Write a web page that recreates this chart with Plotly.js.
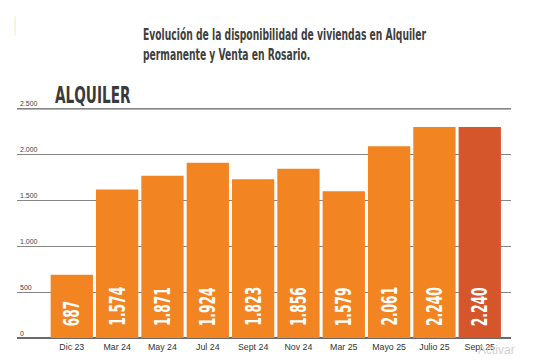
<!DOCTYPE html>
<html>
<head>
<meta charset="utf-8">
<script src="https://cdn.plot.ly/plotly-3.0.1.min.js"></script>
<style>
  html, body { margin: 0; padding: 0; background: #ffffff; }
  #chart { width: 549px; height: 361px; }
</style>
</head>
<body>
<div id="chart"></div>
<script>
// ---- Data ----
const categories = ["Dic 23", "Mar 24", "May 24", "Jul 24", "Sept 24", "Nov 24", "Mar 25", "Mayo 25", "Julio 25", "Sept 25"];
// bar heights as drawn in the reference
const barHeights = [690, 1620, 1770, 1910, 1730, 1845, 1600, 2090, 2300, 2300];
// values printed inside the bars
const barLabels = ["687", "1.574", "1.871", "1.924", "1.823", "1.856", "1.579", "2.061", "2.240", "2.240"];
const yTickValues = [0, 500, 1000, 1500, 2000, 2500];
const titleText = "Evolución de la disponibilidad de viviendas en Alquiler<br>permanente y Venta en Rosario.";
const sectionLabel = "ALQUILER";

// ---- Styles ----
const narrow = "DejaVu Sans Condensed, Arial Narrow, sans-serif";
const barColors = categories.map((c, i) => i === categories.length - 1 ? "#D4562A" : "#F28522");

const trace = {
  type: "bar",
  x: categories.map((c, i) => i),
  y: barHeights,
  marker: { color: barColors, line: { width: 0 } },
  hoverinfo: "skip"
};

const annotations = categories.map((c, i) => ({
  x: i, y: 0, xref: "x", yref: "y",
  text: "<b>" + barLabels[i] + "</b>",
  textangle: -90,
  showarrow: false,
  xanchor: "center", yanchor: "bottom",
  yshift: 10,
  font: { family: narrow, size: 22, color: "#ffffff" }
}));

annotations.push({
  xref: "paper", yref: "y", x: 0.0729, y: 2500, xanchor: "left", yanchor: "bottom",
  yshift: -1,
  text: "<b>" + sectionLabel + "</b>", showarrow: false,
  font: { family: narrow, size: 23, color: "#3a3a3a" }
});
annotations.push({
  xref: "paper", yref: "y", x: 0.929, y: 0, xanchor: "left", yanchor: "middle",
  yshift: -12,
  text: "Activar", showarrow: false,
  font: { family: "Liberation Sans, Arial, sans-serif", size: 12, color: "#d2d2d2" }
});

const layout = {
  width: 549, height: 361,
  margin: { l: 17, r: 38, t: 95, b: 23, pad: 0 },
  paper_bgcolor: "#ffffff", plot_bgcolor: "#ffffff",
  separators: ",.",
  showlegend: false,
  bargap: 0.067,
  title: {
    text: titleText,
    xref: "container", yref: "container",
    x: 0.2605, xanchor: "left",
    y: 0.89, yanchor: "top",
    font: { family: narrow, size: 15.5, weight: "bold", color: "#404040" }
  },
  xaxis: {
    type: "linear",
    range: [-1.209, 9.689],
    tickvals: categories.map((c, i) => i),
    ticktext: categories,
    showgrid: false, zeroline: false, showline: false,
    ticks: "",
    ticklabelstandoff: 2,
    tickfont: { family: "Liberation Sans, Arial, sans-serif", size: 8.8, color: "#333333" },
    fixedrange: true
  },
  yaxis: {
    range: [0, 2650],
    tickvals: yTickValues,
    tickformat: ",d",
    ticklabelposition: "inside top",
    showgrid: true, gridcolor: "#858585", gridwidth: 1,
    zeroline: true, zerolinecolor: "#6a6a6a", zerolinewidth: 1.3,
    showline: false, ticks: "",
    tickfont: { family: "Liberation Sans, Arial, sans-serif", size: 7, color: "#444444" },
    fixedrange: true
  },
  shapes: [
    { type: "line", xref: "paper", yref: "y", x0: 0, x1: 1, y0: 2500, y1: 2500,
      line: { color: "#6a6a6a", width: 1.5 }, layer: "below" },
    { type: "line", xref: "paper", yref: "paper", x0: -0.004, x1: -0.004, y0: 1.245, y1: 1.323,
      line: { color: "#f2e6c4", width: 1 } }
  ],
  annotations: annotations
};

// condense a text element horizontally (in its own coordinates) around its left edge
function condense(el, s) {
  const bb = el.getBBox();
  const prev = el.getAttribute("transform") || "";
  el.setAttribute("transform", (prev + " translate(" + bb.x + ",0) scale(" + s + ",1) translate(" + (-bb.x) + ",0)").trim());
}

Plotly.newPlot("chart", [trace], layout, { displayModeBar: false, staticPlot: true }).then(function (gd) {
  const t = gd.querySelector("text.gtitle");
  if (t) condense(t, 0.66);
  const annTexts = gd.querySelectorAll("g.annotation text.annotation-text");
  annTexts.forEach(function (el, i) {
    if (i < categories.length) condense(el, 0.62);
    else if (i === categories.length) condense(el, 0.66);
  });
});
</script>
</body>
</html>
